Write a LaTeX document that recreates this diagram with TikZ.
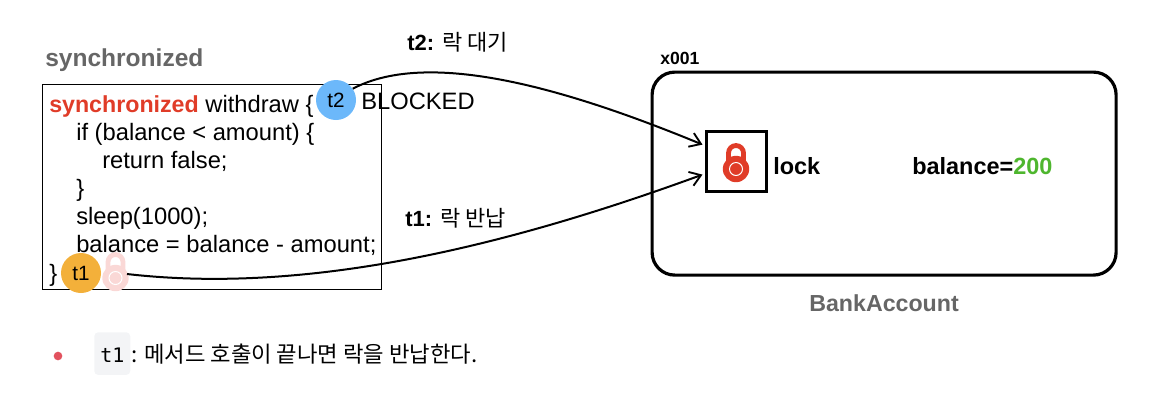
\documentclass[tikz,border=0pt]{standalone}
\usepackage{fontspec}
\setmainfont{Liberation Sans}
\setmonofont{DejaVu Sans Mono}
\newfontfamily\krfont{Noto Sans CJK KR}
\usetikzlibrary{arrows.meta}
\definecolor{lockred}{RGB}{224,60,40}
\definecolor{lockpale}{RGB}{250,216,214}
\definecolor{labelgray}{RGB}{102,102,102}
\definecolor{valuegreen}{RGB}{78,182,46}
\definecolor{threadblue}{RGB}{108,184,250}
\definecolor{threadorange}{RGB}{243,176,58}
\definecolor{bulletred}{RGB}{226,82,94}
\definecolor{chipgray}{RGB}{243,244,246}
\tikzset{
  lockicon/.pic={
    \draw [line width=3.6pt,#1] (-7.5,-6) -- (-7.5,10) arc (180:0:7.5) -- (7.5,-6) ;
    \fill [#1] (0,-6) circle (13.2) ;
    \draw [white,line width=0.75pt] (0,-6) circle (6.5) ;
  },
  txt/.style={anchor=base west,inner sep=0pt,font=\fontsize{17.8pt}{21pt}\selectfont},
  boldtxt/.style={txt,font=\fontsize{17.6pt}{21pt}\selectfont\bfseries},
  thread/.style={circle,minimum size=30pt,inner sep=0pt,font=\fontsize{15.5pt}{16pt}\selectfont},
  conn/.style={line width=1.5pt,-{Straight Barb[length=8pt,width=11pt,line width=1.4pt]}},
}
\begin{document}
\begin{tikzpicture}[x=0.75pt,y=0.75pt,yscale=-1,xscale=1]
\useasboundingbox (0,0) rectangle (1162,412);

% Shapes
\node (codebox) [draw,line width=1pt,anchor=north west,minimum width=254.25pt,minimum height=153.75pt,inner sep=0pt] at (42,84) {};
\node (account) [draw,line width=2.4pt,rounded corners=17pt,anchor=north west,minimum width=348pt,minimum height=152.25pt,inner sep=0pt] at (650.5,70.5) {};
\node (lockbox) [draw,line width=2.4pt,anchor=north west,minimum width=45pt,minimum height=45pt,inner sep=0pt] at (704.5,130) {};

% Locks
\pic at (736,163) {lockicon=lockred};
\pic at (115.5,272) {lockicon=lockpale};

% Threads
\node (t2) [thread,fill=threadblue] at (336,100) {t2};
\node (t1) [thread,fill=threadorange] at (81,273) {t1};
\coordinate (t1end) at (127,274);

% Text Node
\node (title) [boldtxt,text=labelgray,font=\fontsize{18.4pt}{21pt}\selectfont\bfseries] at (45,66) {synchronized};
\node (line1) [txt] at (49,112) {\textcolor{lockred}{\fontsize{17.4pt}{21pt}\selectfont\bfseries synchronized} withdraw \{};
\node (line2) [txt] at (76,140) {if (balance < amount) \{};
\node (line3) [txt] at (102,168) {return false;};
\node (line4) [txt] at (76,196) {\}};
\node (line5) [txt] at (76,224) {sleep(1000);};
\node (line6) [txt] at (76,252) {balance = balance - amount;};
\node (line7) [txt] at (49,281) {\}};
\node (blocked) [txt] at (361,109) {BLOCKED};
\node (wait) [boldtxt,font=\fontsize{16.5pt}{21pt}\selectfont\bfseries] at (407,50) {t2: {\krfont\mdseries 락 대기}};
\node (release) [boldtxt,font=\fontsize{16.5pt}{21pt}\selectfont\bfseries] at (405,226) {t1: {\krfont\mdseries 락 반납}};
\node (addr) [boldtxt,font=\fontsize{13.2pt}{16pt}\selectfont\bfseries] at (660,64) {x001};
\node (locklabel) [boldtxt] at (773,174) {lock};
\node (balance) [boldtxt] at (912,174) {balance=\textcolor{valuegreen}{200}};
\node (classname) [boldtxt,text=labelgray,font=\fontsize{17.4pt}{21pt}\selectfont\bfseries] at (809,311) {BankAccount};

% Connectors
\draw [conn] (t2.34) .. controls (430,48) and (570,90) .. ([shift={(-2,-17)}]lockbox.west) ;
\draw [conn] (t1end) .. controls (310,295) and (510,245) .. ([shift={(-2,13)}]lockbox.west) ;

% Note
\node (bullet) [circle,fill=bulletred,minimum size=6.5pt,inner sep=0pt] at (58,356) {};
\node (chip) [fill=chipgray,rounded corners=3pt,anchor=north west,minimum width=27pt,minimum height=32pt,inner sep=0pt] at (94,332) {};
\node (chiptext) [txt,font=\fontsize{15pt}{18pt}\ttfamily] at (100,362) {t1};
\node (note) [txt,font=\fontsize{16.7pt}{18pt}\krfont] at (131,362) {: 메서드 호출이 끝나면 락을 반납한다.};
\end{tikzpicture}
\end{document}
